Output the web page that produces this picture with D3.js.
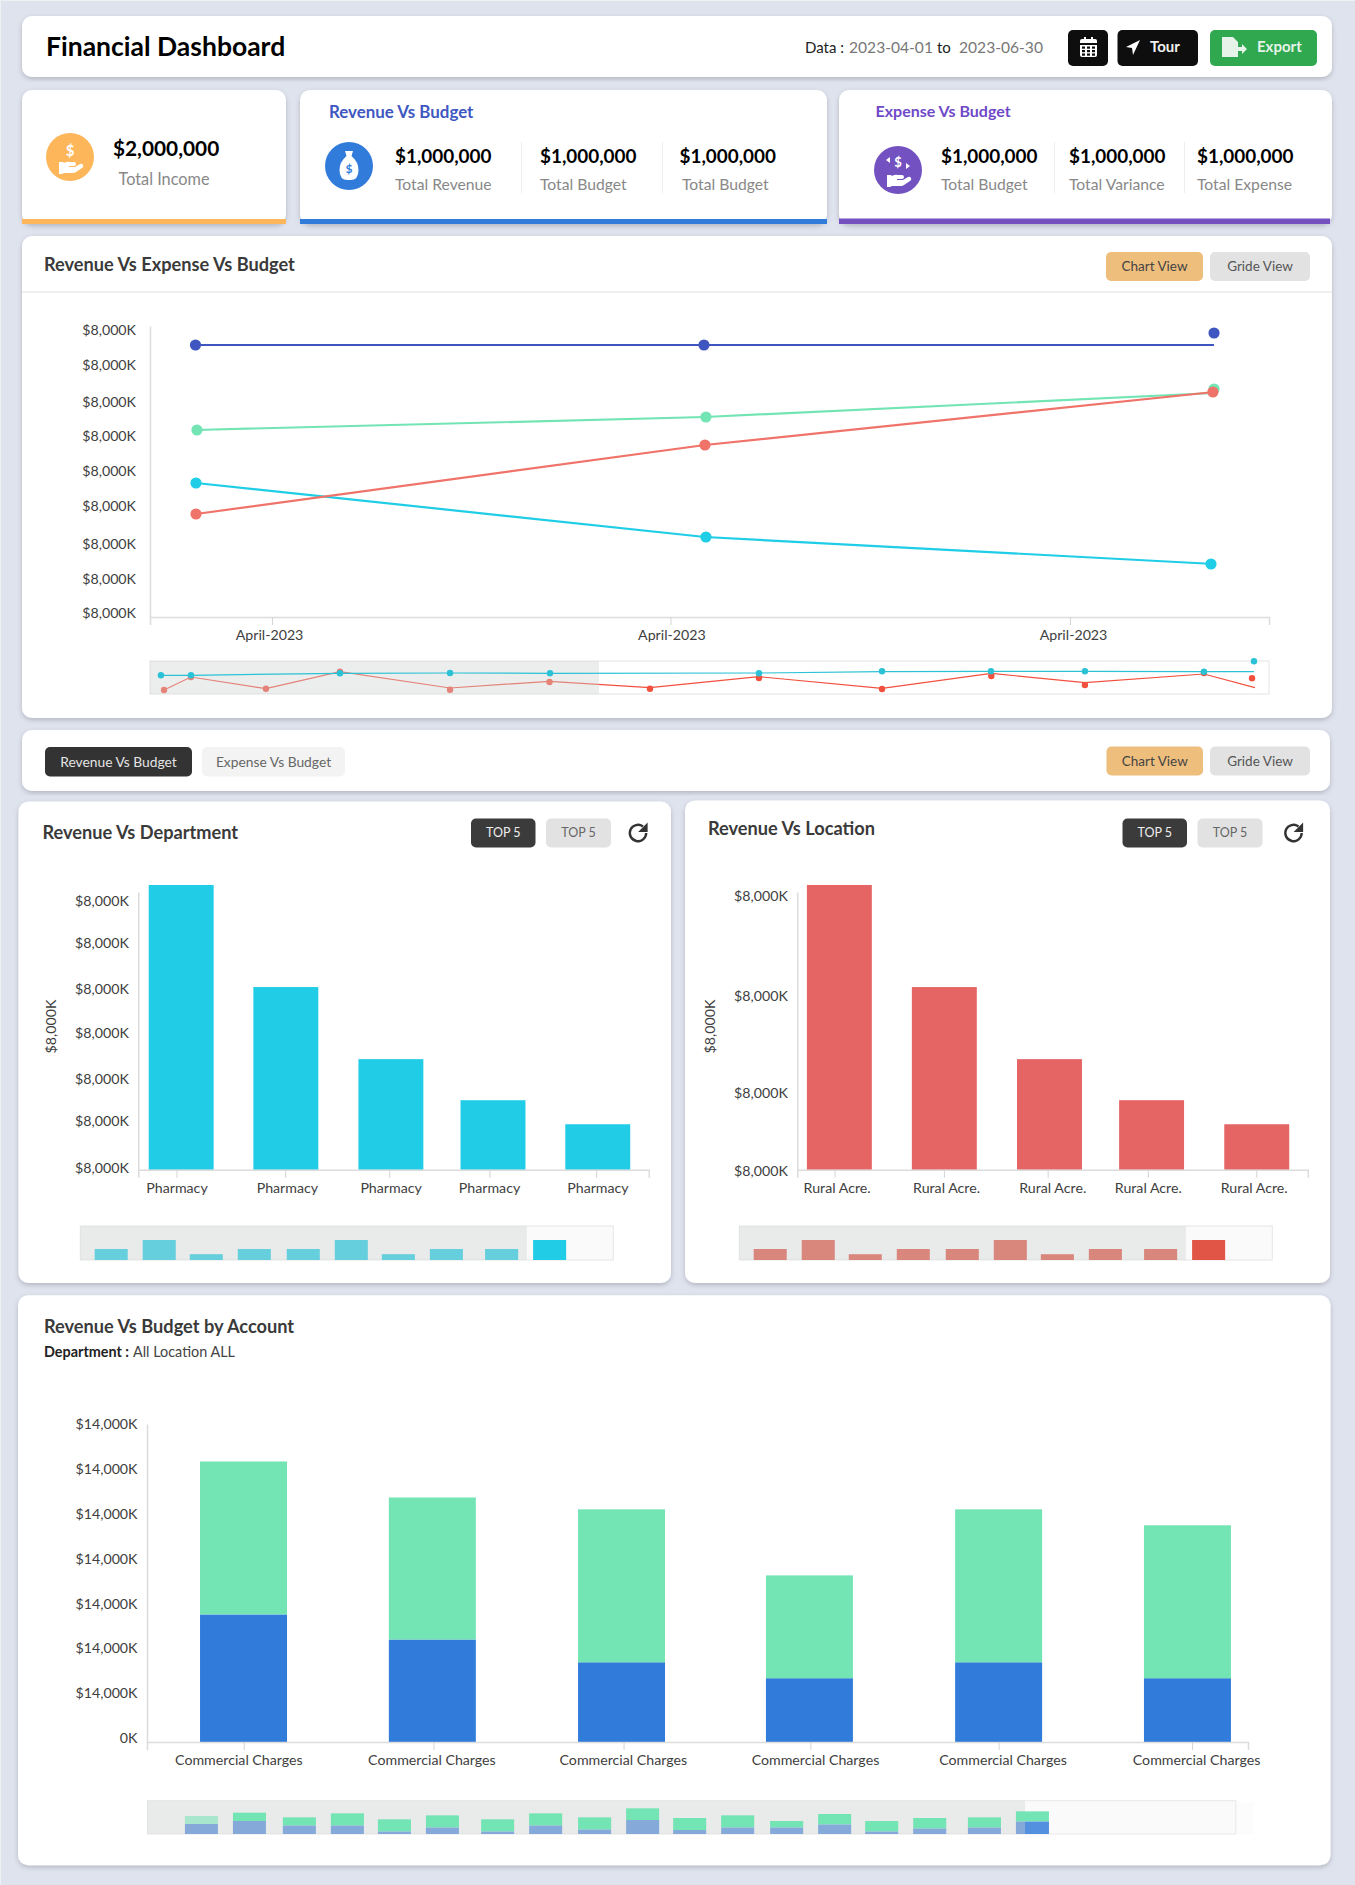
<!DOCTYPE html>
<html>
<head>
<meta charset="utf-8">
<title>Financial Dashboard</title>
<script src="https://cdn.jsdelivr.net/npm/d3@7"></script>
<style>
  body { margin: 0; background: #eef0f4; }
  svg { display: block; }
  text { font-family: Lato, "Noto Sans", sans-serif; }
  .axis text { font-size: 14.2px; fill: #404040; font-family: Lato, sans-serif; font-weight: 400; }
  .axis path { stroke: #dcdcdc; stroke-width: 1.5; }
  .axis line { stroke: #d4d4d4; }
</style>
</head>
<body>
<div id="dashboard"></div>
<script>
// line chart, x values are days into the quarter, y values in $K
var trendDays = [3.74, 45.13, 86.53];
var trendTickDays = [9.92, 42.33, 74.81];
var trendLabelDays = [9.68, 42.4, 75.06];
var trendTickLabels = ['April-2023', 'April-2023', 'April-2023'];
var trendYTicks = [7890, 6927, 5910, 4976, 4014, 3051, 2007, 1045, 110];
var trendYLabels = ['$8,000K', '$8,000K', '$8,000K', '$8,000K', '$8,000K', '$8,000K', '$8,000K', '$8,000K', '$8,000K'];

var budgetLine = [7478, 7478, 7478];
var budgetDots = [7478, 7478, 7808];
var budgetDotDays = [3.7, 45.05, 86.53];
var targetLine = [5141, 5498, 6158];
var targetDots = [5141, 5498, 6268];
var targetDotDays = [3.82, 45.21, 86.53];
var revenueLine = [2832, 4729, 6186];
var revenueDots = [2832, 4729, 6186];
var revenueDotDays = [3.74, 45.13, 86.44];
var expenseLine = [3684, 2199, 1457];
var expenseDots = [3684, 2199, 1457];
var expenseDotDays = [3.74, 45.21, 86.28];

// overview strip under the line chart
var overviewRedDays = [1.14, 3.33, 9.43, 15.45, 24.4, 32.49, 40.66, 49.52, 59.53, 68.42, 76.03, 85.71, 89.86];
var overviewRedLine = [121, 515, 161, 676, 182, 385, 191, 524, 173, 627, 342, 606, 191];
var overviewRedDotDays = [1.14, 3.33, 9.43, 15.45, 24.4, 32.49, 40.66, 49.52, 59.53, 68.42, 76.03, 85.71, 89.62];
var overviewRedDots = [121, 515, 161, 676, 130, 364, 161, 485, 152, 545, 273, 636, 476];
var overviewCyanDays = [0.89, 3.33, 15.45, 24.4, 32.53, 49.52, 59.53, 68.39, 76.03, 85.71, 89.78];
var overviewCyanLine = [567, 567, 627, 636, 627, 636, 676, 688, 688, 676, 676];
var overviewCyanDots = [567, 567, 627, 636, 627, 627, 688, 688, 688, 676, 991];

// top 5 bar charts
var topBarValues = [8202, 5263, 3187, 2004, 1312];
var deptBarSlots = [0.42, 1.445, 2.474, 3.474, 4.5];
var deptTickSlots = [0.374, 1.439, 2.458, 3.439, 4.484];
var deptLabelSlots = [0.374, 1.455, 2.471, 3.435, 4.497];
var deptLabels = ['Pharmacy', 'Pharmacy', 'Pharmacy', 'Pharmacy', 'Pharmacy'];
var deptYTicks = [7739, 6522, 5200, 3955, 2621, 1394, 63];
var deptYLabels = ['$8,000K', '$8,000K', '$8,000K', '$8,000K', '$8,000K', '$8,000K', '$8,000K'];

var locBarSlots = [0.412, 1.44, 2.47, 3.47, 4.5];
var locTickSlots = [0.365, 1.436, 2.452, 3.433, 4.495];
var locLabelSlots = [0.385, 1.457, 2.497, 3.433, 4.47];
var locLabels = ['Rural Acre.', 'Rural Acre.', 'Rural Acre.', 'Rural Acre.', 'Rural Acre.'];
var locYTicks = [7887, 5002, 2202, -22];
var locYLabels = ['$8,000K', '$8,000K', '$8,000K', '$8,000K'];

var miniBarSlots = [0, 1, 1.98, 2.98, 4, 5, 5.98, 6.98, 8.13, 9.13];
var miniBarValues = [550, 1000, 290, 550, 550, 1000, 290, 550, 550, 1000];

// stacked account chart
var accountSlots = [0.526, 1.555, 2.586, 3.61, 4.641, 5.67];
var accountTickSlots = [0.527, 1.561, 2.597, 3.615, 4.641, 5.695];
var accountLabelSlots = [0.498, 1.55, 2.593, 3.64, 4.662, 5.717];
var accountLabels = ['Commercial Charges', 'Commercial Charges', 'Commercial Charges', 'Commercial Charges', 'Commercial Charges', 'Commercial Charges'];
var accountRevenue = [5680, 4564, 3550, 2840, 3550, 2840];
var accountBudget = [6810, 6324, 6810, 4579, 6810, 6810];
var accountYTicks = [0, 2000, 4000, 6000, 8000, 10000, 12000, 14000];
var accountYLabels = ['0K', '$14,000K', '$14,000K', '$14,000K', '$14,000K', '$14,000K', '$14,000K', '$14,000K'];

var accountMiniSlots = [0, 1, 2.04, 3.04, 4.02, 5.02, 6.17, 7.17, 8.19, 9.19, 10.17, 11.17, 12.19, 13.19, 14.17, 15.17, 16.31, 17.31];
var accountMiniRevenue = [30, 39, 26, 26, 8, 20, 8, 26, 14, 42, 12, 20, 20, 29, 8, 17, 20, 38];
var accountMiniBudget = [24, 25, 24, 36, 36, 36, 36, 36, 36, 35, 36, 36, 19, 31, 31, 31, 30, 30];

var BLUE = '#317bdb', GREEN = '#73e4b4', CYAN = '#21cde6', RED = '#e56464';
var SHADE = 'rgba(207,211,209,0.4)';

var svg = d3.select('#dashboard').append('svg').attr('width', 1355).attr('height', 1885);
var defs = svg.append('defs');
var shadow = defs.append('filter').attr('id', 'cardShadow')
  .attr('x', '-5%').attr('y', '-5%').attr('width', '110%').attr('height', '112%');
shadow.append('feDropShadow').attr('dx', 0).attr('dy', 2).attr('stdDeviation', 2.5)
  .attr('flood-color', '#000').attr('flood-opacity', 0.2);

svg.append('rect').attr('x', 1).attr('y', 1).attr('width', 1354).attr('height', 1884).attr('fill', '#dfe3ee');

function card(x, y, w, h) {
  return svg.append('rect').attr('x', x).attr('y', y).attr('width', w).attr('height', h)
    .attr('rx', 10).attr('fill', '#fff').attr('filter', 'url(#cardShadow)');
}

function label(x, y, str, size, weight, fill, anchor) {
  return svg.append('text').attr('x', x).attr('y', y).attr('dy', '.35em')
    .attr('font-size', size).attr('font-weight', weight).attr('fill', fill)
    .attr('text-anchor', anchor || 'start').text(str);
}

function button(x, y, w, h, fill, str, size, color) {
  svg.append('rect').attr('x', x).attr('y', y).attr('width', w).attr('height', h)
    .attr('rx', 5).attr('fill', fill);
  if (str) label(x + w / 2, y + h / 2, str, size, 400, color, 'middle');
}

function strip(x, y, w, h, fill) {
  svg.append('rect').attr('x', x).attr('y', y).attr('width', w).attr('height', h).attr('fill', fill);
}

function iconCircle(cx, cy, fill) {
  var g = svg.append('g').attr('transform', 'translate(' + cx + ',' + cy + ')');
  g.append('circle').attr('r', 24).attr('fill', fill);
  return g;
}

var HAND = 'M-11,5 h4 l1,1 q3,-2 6,-1 h4 q2,0 2,2 t-2,2 h-5 v1 h6 l5,-3 q2,-1 3,1 t-1,3 l-6,4 q-1,1 -3,1 h-9 l-2,1 h-3 z';

function divider(x) {
  strip(x, 142, 1, 51, '#eeeeee');
}

function refresh(cx, cy) {
  var g = svg.append('g').attr('transform', 'translate(' + cx + ',' + cy + ')');
  g.append('path').attr('d', d3.arc()({ innerRadius: 7, outerRadius: 9.4, startAngle: 1.57, endAngle: 2 * Math.PI + 0.65 }))
    .attr('fill', '#333');
  g.append('path').attr('d', 'M9.6,-10.5 v9.5 h-9.5 z').attr('fill', '#333');
}

// header
card(22, 16, 1310, 61);
label(46, 47, 'Financial Dashboard', 26.5, 700, '#000');
label(805, 48, 'Data :', 15, 400, '#222');
label(849, 48, '2023-04-01', 15.6, 400, '#777');
label(937, 48, 'to', 15, 400, '#222');
label(959, 48, '2023-06-30', 15.6, 400, '#777');
button(1068, 30, 40, 36, '#0e0e0e');
svg.append('rect').attr('x', 1080).attr('y', 39).attr('width', 17).attr('height', 18).attr('rx', 2).attr('fill', '#fff');
svg.append('rect').attr('x', 1080).attr('y', 43).attr('width', 17).attr('height', 2).attr('fill', '#0e0e0e');
d3.range(3).forEach(function(r) {
  d3.range(3).forEach(function(c) {
    svg.append('rect').attr('x', 1082 + c * 5).attr('y', 46.5 + r * 3.5).attr('width', 3).attr('height', 2.2).attr('fill', '#0e0e0e');
  });
});
strip(1084, 37, 2, 4, '#fff');
strip(1091, 37, 2, 4, '#fff');
button(1117.5, 30, 80.5, 36, '#0e0e0e');
svg.append('path').attr('d', 'M1140,40 L1126,47 L1132,48 L1133,55 Z').attr('fill', '#fff');
label(1150, 47, 'Tour', 15, 700, '#f0f0f0');
button(1210, 30, 107, 36, '#2fa84f');
svg.append('path').attr('d', 'M1222,37 h11 l5,5 v5 h4 v-3 l5,5 l-5,5 v-3 h-4 v6 h-16 z').attr('fill', '#e6f3e8');
label(1257, 47, 'Export', 15, 700, '#e6f3e8');

// summary cards
card(22, 90, 264, 134);
strip(22, 219, 264, 5, '#fdb65a');
var incomeIcon = iconCircle(70, 157, '#fdb65a');
incomeIcon.append('text').attr('y', -1).attr('text-anchor', 'middle').attr('font-size', 15).attr('font-weight', 700).attr('fill', '#fff').text('$');
incomeIcon.append('path').attr('d', HAND).attr('fill', '#fff');
label(113, 149, '$2,000,000', 20.8, 700, '#000');
label(118.5, 179, 'Total Income', 16.3, 400, '#888');

card(300, 90, 527, 134);
strip(300, 219, 527, 5, BLUE);
label(329, 112, 'Revenue Vs Budget', 16.9, 700, '#3e57c1');
var revenueIcon = iconCircle(349, 166, BLUE);
revenueIcon.append('path').attr('d', 'M-4,-15 h8 l-1.5,5 q7,6 7,14 q0,10 -8,10 h-3 q-8,0 -8,-10 q0,-8 7,-14 z').attr('fill', '#fff');
revenueIcon.append('text').attr('y', 7).attr('text-anchor', 'middle').attr('font-size', 12).attr('font-weight', 700).attr('fill', BLUE).text('$');
[[395, '$1,000,000', 395, 'Total Revenue'], [540, '$1,000,000', 540, 'Total Budget'], [679.5, '$1,000,000', 682, 'Total Budget']].forEach(function(d) {
  label(d[0], 156.5, d[1], 18.9, 700, '#000');
  label(d[2], 185, d[3], 15.7, 400, '#888');
});
divider(521);
divider(662);

card(839, 90, 493, 134);
strip(839, 218.5, 491, 5.5, '#7450c0');
label(875.5, 111.5, 'Expense Vs Budget', 16, 700, '#6f49c8');
var expenseIcon = iconCircle(898, 170, '#7451c1');
expenseIcon.append('text').attr('y', -3).attr('text-anchor', 'middle').attr('font-size', 13).attr('font-weight', 700).attr('fill', '#fff').text('$');
expenseIcon.append('path').attr('d', 'M-8,-13 l-4,3 l4,3 z M8,-7 l4,3 l-4,3 z').attr('fill', '#fff');
expenseIcon.append('path').attr('d', HAND).attr('fill', '#fff');
[[941, 'Total Budget'], [1069, 'Total Variance'], [1197, 'Total Expense']].forEach(function(d) {
  label(d[0], 156.5, '$1,000,000', 18.9, 700, '#000');
  label(d[0], 185, d[1], 15.7, 400, '#888');
});
divider(1054);
divider(1184);

// revenue vs expense vs budget
card(22, 236, 1310, 482);
strip(22, 291, 1310, 2, '#f0f0f0');
label(44, 265, 'Revenue Vs Expense Vs Budget', 18.2, 700, '#3a3a3a');
button(1106, 252, 97, 29, '#eebe7d', 'Chart View', 13.5, '#444');
button(1210, 252, 100, 29, '#e2e2e2', 'Gride View', 13.5, '#555');

var trendX = d3.scaleLinear().domain([0, 91]).range([150, 1269]);
var trendY = d3.scaleLinear().domain([0, 8000]).range([617, 326]);

function xAxis(scale, y, tickVals, labelVals, labels) {
  var g = svg.append('g').attr('class', 'axis').attr('transform', 'translate(0,' + y + ')')
    .call(d3.axisBottom(scale).tickValues(tickVals).tickFormat(function(d, i) { return labels[i]; })
      .tickSizeOuter(0).tickSize(8).tickPadding(5));
  g.selectAll('text').attr('dx', function(d, i) { return scale(labelVals[i]) - scale(tickVals[i]); });
  return g;
}

function yAxis(scale, x, tickVals, labels, padding, shift) {
  var g = svg.append('g').attr('class', 'axis').attr('transform', 'translate(' + x + ',0)')
    .call(d3.axisLeft(scale).tickValues(tickVals).tickFormat(function(d, i) { return labels[i]; })
      .tickSizeOuter(0).tickSize(0).tickPadding(padding));
  if (shift) g.selectAll('text').attr('transform', 'translate(0,' + shift + ')');
  return g;
}

yAxis(trendY, 150, trendYTicks, trendYLabels, 14);
xAxis(trendX, 617, trendTickDays, trendLabelDays, trendTickLabels);

var trendLine = d3.line()
  .x(function(d) { return trendX(d.x); })
  .y(function(d) { return trendY(d.y); });

function zip(xs, ys) {
  return ys.map(function(v, i) { return { x: xs[i], y: v }; });
}

[
  { color: '#3f56c0', line: budgetLine, dots: budgetDots, days: budgetDotDays },
  { color: '#73e4b4', line: targetLine, dots: targetDots, days: targetDotDays },
  { color: '#1fcde6', line: expenseLine, dots: expenseDots, days: expenseDotDays },
  { color: '#f0736a', line: revenueLine, dots: revenueDots, days: revenueDotDays }
].forEach(function(s) {
  svg.append('path').datum(zip(trendDays, s.line)).attr('d', trendLine)
    .attr('fill', 'none').attr('stroke', s.color).attr('stroke-width', 2.2);
  svg.selectAll(null).data(zip(s.days, s.dots)).enter().append('circle')
    .attr('cx', function(d) { return trendX(d.x); })
    .attr('cy', function(d) { return trendY(d.y); })
    .attr('r', 5.6).attr('fill', s.color);
});

// line overview, red sits under the shade and cyan over it
var overviewY = d3.scaleLinear().domain([0, 1000]).range([694, 661]);
var overviewLine = d3.line()
  .x(function(d) { return trendX(d.x); })
  .y(function(d) { return overviewY(d.y); });

svg.append('rect').attr('x', 150).attr('y', 661).attr('width', 1119).attr('height', 33)
  .attr('fill', '#fff').attr('stroke', '#ededed').attr('stroke-width', 1.5);

function overviewSeries(color, days, line, dotDays, dots) {
  svg.append('path').datum(zip(days, line)).attr('d', overviewLine)
    .attr('fill', 'none').attr('stroke', color).attr('stroke-width', 1.2);
  svg.selectAll(null).data(zip(dotDays, dots)).enter().append('circle')
    .attr('cx', function(d) { return trendX(d.x); })
    .attr('cy', function(d) { return overviewY(d.y); })
    .attr('r', 3.2).attr('fill', color);
}

overviewSeries('#f2503f', overviewRedDays, overviewRedLine, overviewRedDotDays, overviewRedDots);
svg.append('rect').attr('x', 150).attr('y', 661).attr('width', 449).attr('height', 33).attr('fill', SHADE);
overviewSeries('#2bc2d6', overviewCyanDays, overviewCyanLine, overviewCyanDays, overviewCyanDots);

// filter bar
card(22, 730, 1308, 61);
button(45, 747, 147, 29.4, '#333', 'Revenue Vs Budget', 13.8, '#e4e4e4');
button(202, 747, 143, 29.4, '#f3f3f3', 'Expense Vs Budget', 13.8, '#666');
button(1106.5, 746.5, 96.5, 29, '#eebe7d', 'Chart View', 13.5, '#444');
button(1210, 746.5, 100, 29, '#e2e2e2', 'Gride View', 13.5, '#555');

// top 5 charts share the same layout
function topChart(o) {
  card(o.cardX, o.cardY, o.cardW, 1283 - o.cardY);
  label(o.titleX, o.titleY, o.title, 18.2, 700, '#3a3a3a');
  button(o.btnX, 818.5, 64.5, 29, '#3b3b3b', 'TOP 5', 12.5, '#eee');
  button(o.btnX + 75, 818.5, 65, 29, '#e2e2e2', 'TOP 5', 12.5, '#666');
  refresh(o.btnX + o.refreshDx, 833);

  var x = d3.scaleLinear().domain([0, 5]).range([o.axisX, o.axisX + 510.5]);
  var y = d3.scaleLinear().domain([0, 8000]).range([1169.8, 892]);
  var barWidth = x(0.636) - x(0);

  svg.selectAll(null).data(topBarValues).enter().append('rect')
    .attr('x', function(d, i) { return x(o.barSlots[i]) - barWidth / 2; })
    .attr('y', function(d) { return y(d); })
    .attr('width', barWidth)
    .attr('height', function(d) { return y(0) - y(d); })
    .attr('fill', o.color);

  yAxis(y, o.axisX, o.yTicks, o.yLabels, 9.5);
  xAxis(x, 1169.8, o.tickSlots, o.labelSlots, o.labels);

  svg.append('text').attr('transform', 'translate(' + (o.axisX - 87) + ',1026.5) rotate(-90)')
    .attr('dy', '.35em').attr('text-anchor', 'middle').attr('font-size', 14.2).attr('font-weight', 400)
    .attr('fill', '#404040').text('$8,000K');

  // overview
  var left = o.axisX - 58.5;
  var miniX = d3.scaleLinear().domain([-0.31, 10.8]).range([left, left + 533.5]);
  var miniY = d3.scaleLinear().domain([0, 1000]).range([1260, 1240]);
  svg.append('rect').attr('x', left + 0.5).attr('y', 1226).attr('width', 533).attr('height', 34)
    .attr('fill', '#fafafa').attr('stroke', '#e6e6e6');
  svg.selectAll(null).data(miniBarValues).enter().append('rect')
    .attr('x', function(d, i) { return miniX(miniBarSlots[i]); })
    .attr('y', function(d) { return miniY(d); })
    .attr('width', miniX(0.688) - miniX(0))
    .attr('height', function(d) { return miniY(0) - miniY(d); })
    .attr('fill', o.miniColor);
  svg.append('rect').attr('x', left + 0.5).attr('y', 1226).attr('width', 446.5).attr('height', 34).attr('fill', SHADE);
}

topChart({
  cardX: 18.5, cardY: 801.5, cardW: 652.5, titleX: 42.5, titleY: 833, title: 'Revenue Vs Department',
  btnX: 471, refreshDx: 167, axisX: 138.3, color: CYAN, miniColor: CYAN,
  barSlots: deptBarSlots, tickSlots: deptTickSlots, labelSlots: deptLabelSlots, labels: deptLabels,
  yTicks: deptYTicks, yLabels: deptYLabels
});

topChart({
  cardX: 685, cardY: 800.4, cardW: 645, titleX: 708, titleY: 828.7, title: 'Revenue Vs Location',
  btnX: 1122.5, refreshDx: 171, axisX: 797.3, color: RED, miniColor: '#e05545',
  barSlots: locBarSlots, tickSlots: locTickSlots, labelSlots: locLabelSlots, labels: locLabels,
  yTicks: locYTicks, yLabels: locYLabels
});

// revenue vs budget by account
card(18, 1295.3, 1312.5, 570);
label(44, 1326.8, 'Revenue Vs Budget by Account', 18.2, 700, '#3a3a3a');
label(44, 1352, 'Department :', 14.4, 700, '#222');
label(133, 1352, 'All Location ALL', 14.4, 400, '#444');

var accountX = d3.scaleLinear().domain([0, 6]).range([147, 1248]);
var accountY = d3.scaleLinear().domain([0, 14160]).range([1742, 1424]);
var accountBarWidth = accountX(0.474) - accountX(0);

svg.selectAll(null).data(accountRevenue).enter().append('rect')
  .attr('x', function(d, i) { return accountX(accountSlots[i]) - accountBarWidth / 2; })
  .attr('y', function(d) { return accountY(d); })
  .attr('width', accountBarWidth)
  .attr('height', function(d) { return accountY(0) - accountY(d); })
  .attr('fill', BLUE);
svg.selectAll(null).data(accountBudget).enter().append('rect')
  .attr('x', function(d, i) { return accountX(accountSlots[i]) - accountBarWidth / 2; })
  .attr('y', function(d, i) { return accountY(accountRevenue[i] + d); })
  .attr('width', accountBarWidth)
  .attr('height', function(d) { return accountY(0) - accountY(d); })
  .attr('fill', GREEN);

yAxis(accountY, 147, accountYTicks, accountYLabels, 9.5, -3.8);
xAxis(accountX, 1742, accountTickSlots, accountLabelSlots, accountLabels);

// account overview, green stays on top of the shade
var accountMiniX = d3.scaleLinear().domain([-0.79, 21.89]).range([147, 1235.8]);
var accountMiniY = d3.scaleLinear().domain([0, 100]).range([1834, 1800.7]);
var accountMiniWidth = accountMiniX(0.688) - accountMiniX(0);

svg.append('rect').attr('x', 1236).attr('y', 1802).attr('width', 18).attr('height', 32).attr('fill', '#fcfcfc');
svg.append('rect').attr('x', 147.5).attr('y', 1800.7).attr('width', 1088.3).attr('height', 33.3)
  .attr('fill', '#fafafa').attr('stroke', '#e8e8e8');
svg.selectAll(null).data(accountMiniRevenue).enter().append('rect')
  .attr('x', function(d, i) { return accountMiniX(accountMiniSlots[i]); })
  .attr('y', function(d) { return accountMiniY(d); })
  .attr('width', accountMiniWidth)
  .attr('height', function(d) { return accountMiniY(0) - accountMiniY(d); })
  .attr('fill', '#5490e0');
svg.append('rect').attr('x', 147.5).attr('y', 1800.7).attr('width', 877.5).attr('height', 33.3).attr('fill', SHADE);
svg.selectAll(null).data(accountMiniBudget).enter().append('rect')
  .attr('x', function(d, i) { return accountMiniX(accountMiniSlots[i]); })
  .attr('y', function(d, i) { return accountMiniY(accountMiniRevenue[i] + d); })
  .attr('width', accountMiniWidth)
  .attr('height', function(d) { return accountMiniY(0) - accountMiniY(d); })
  .attr('fill', GREEN)
  .attr('opacity', function(d, i) { return i === 0 ? 0.55 : 1; });
</script>
</body>
</html>
